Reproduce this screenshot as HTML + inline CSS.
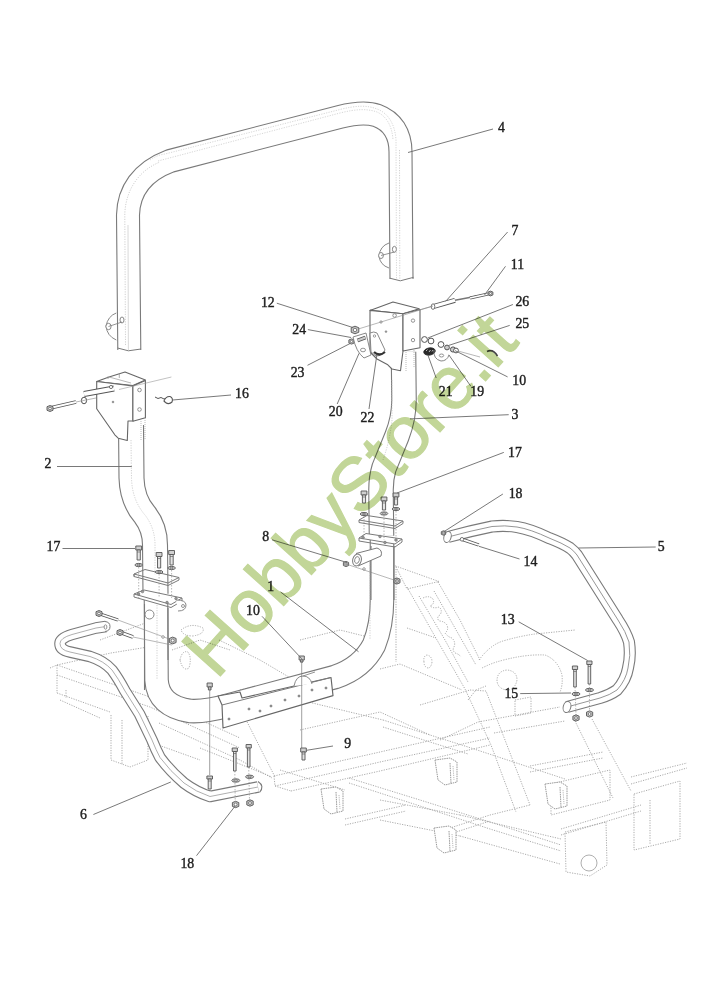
<!DOCTYPE html>
<html><head><meta charset="utf-8"><style>
html,body{margin:0;padding:0;background:#fff;}
svg{display:block;filter:blur(0.3px);}
</style></head><body>
<svg width="706" height="1000" viewBox="0 0 706 1000">
<rect width="706" height="1000" fill="#fff"/>
<polyline points="57,665 150,697 240,738" fill="none" stroke="#a6a6a6" stroke-width="0.95" stroke-dasharray="1.2 1.3"/>
<polyline points="57,675 150,707 240,748" fill="none" stroke="#a6a6a6" stroke-width="0.95" stroke-dasharray="1.2 1.3"/>
<polyline points="57,693 110,712" fill="none" stroke="#a6a6a6" stroke-width="0.95" stroke-dasharray="1.2 1.3"/>
<polyline points="57,665 57,693" fill="none" stroke="#a6a6a6" stroke-width="0.95" stroke-dasharray="1.2 1.3"/>
<polyline points="50,668 57,665" fill="none" stroke="#a6a6a6" stroke-width="0.95" stroke-dasharray="1.2 1.3"/>
<polyline points="57,665 111,653 148,647" fill="none" stroke="#a6a6a6" stroke-width="0.95" stroke-dasharray="1.2 1.3"/>
<polyline points="66,690 66,698" fill="none" stroke="#a6a6a6" stroke-width="0.95" stroke-dasharray="1.2 1.3"/>
<polyline points="111,715 111,760 130,767 148,760 148,716" fill="none" stroke="#a6a6a6" stroke-width="0.95" stroke-dasharray="1.2 1.3"/>
<polyline points="122,720 122,764" fill="none" stroke="#a6a6a6" stroke-width="0.95" stroke-dasharray="1.2 1.3"/>
<polyline points="159,723 240,760 272,778" fill="none" stroke="#a6a6a6" stroke-width="0.95" stroke-dasharray="1.2 1.3"/>
<polyline points="150,742 200,760" fill="none" stroke="#a6a6a6" stroke-width="0.95" stroke-dasharray="1.2 1.3"/>
<polyline points="100,640 148,622" fill="none" stroke="#a6a6a6" stroke-width="0.95" stroke-dasharray="1.2 1.3"/>
<polyline points="60,700 100,718" fill="none" stroke="#a6a6a6" stroke-width="0.95" stroke-dasharray="1.2 1.3"/>
<polyline points="172,650 200,640 230,650" fill="none" stroke="#a6a6a6" stroke-width="0.95" stroke-dasharray="1.2 1.3"/>
<path d="M181,630 q10,-8 22,-2 q2,6 -10,8 q-10,0 -12,-6" fill="none" stroke="#a6a6a6" stroke-width="0.95" stroke-dasharray="1.2 1.3"/>
<path d="M180,660 q2,-10 8,-8 q4,6 1,16 q-6,4 -9,-8" fill="none" stroke="#a6a6a6" stroke-width="0.95" stroke-dasharray="1.2 1.3"/>
<polyline points="219,640 260,660 299,683" fill="none" stroke="#a6a6a6" stroke-width="0.95" stroke-dasharray="1.2 1.3"/>
<polyline points="238,704 275,777" fill="none" stroke="#a6a6a6" stroke-width="0.95" stroke-dasharray="1.2 1.3"/>
<polyline points="200,748 272,777" fill="none" stroke="#a6a6a6" stroke-width="0.95" stroke-dasharray="1.2 1.3"/>
<polyline points="160,700 200,722" fill="none" stroke="#a6a6a6" stroke-width="0.95" stroke-dasharray="1.2 1.3"/>
<polyline points="274,776 380,752 490,727" fill="none" stroke="#a6a6a6" stroke-width="0.95" stroke-dasharray="1.2 1.3"/>
<polyline points="275,786 380,762 490,738" fill="none" stroke="#a6a6a6" stroke-width="0.95" stroke-dasharray="1.2 1.3"/>
<polyline points="291,791 380,771 490,745" fill="none" stroke="#a6a6a6" stroke-width="0.95" stroke-dasharray="1.2 1.3"/>
<polyline points="274,776 275,786 291,791" fill="none" stroke="#a6a6a6" stroke-width="0.95" stroke-dasharray="1.2 1.3"/>
<polyline points="349,778 420,800 490,822 561,845" fill="none" stroke="#a6a6a6" stroke-width="0.95" stroke-dasharray="1.2 1.3"/>
<polyline points="349,783 420,806 490,829 561,851" fill="none" stroke="#a6a6a6" stroke-width="0.95" stroke-dasharray="1.2 1.3"/>
<polyline points="383,720 430,735 468,747 565,779" fill="none" stroke="#a6a6a6" stroke-width="0.95" stroke-dasharray="1.2 1.3"/>
<polyline points="383,727 430,742 468,754" fill="none" stroke="#a6a6a6" stroke-width="0.95" stroke-dasharray="1.2 1.3"/>
<polyline points="300,700 383,720" fill="none" stroke="#a6a6a6" stroke-width="0.95" stroke-dasharray="1.2 1.3"/>
<polyline points="460,815 561,839" fill="none" stroke="#a6a6a6" stroke-width="0.95" stroke-dasharray="1.2 1.3"/>
<polyline points="460,836 560,864" fill="none" stroke="#a6a6a6" stroke-width="0.95" stroke-dasharray="1.2 1.3"/>
<polyline points="380,800 460,815" fill="none" stroke="#a6a6a6" stroke-width="0.95" stroke-dasharray="1.2 1.3"/>
<polyline points="380,820 460,836" fill="none" stroke="#a6a6a6" stroke-width="0.95" stroke-dasharray="1.2 1.3"/>
<polyline points="280,770 345,790" fill="none" stroke="#a6a6a6" stroke-width="0.95" stroke-dasharray="1.2 1.3"/>
<polyline points="345,819 406,805" fill="none" stroke="#a6a6a6" stroke-width="0.95" stroke-dasharray="1.2 1.3"/>
<polyline points="345,825 406,811" fill="none" stroke="#a6a6a6" stroke-width="0.95" stroke-dasharray="1.2 1.3"/>
<polyline points="447,829 490,815 530,805" fill="none" stroke="#a6a6a6" stroke-width="0.95" stroke-dasharray="1.2 1.3"/>
<polyline points="447,835 490,821" fill="none" stroke="#a6a6a6" stroke-width="0.95" stroke-dasharray="1.2 1.3"/>
<polyline points="530,766 603,752" fill="none" stroke="#a6a6a6" stroke-width="0.95" stroke-dasharray="1.2 1.3"/>
<polyline points="530,772 603,758" fill="none" stroke="#a6a6a6" stroke-width="0.95" stroke-dasharray="1.2 1.3"/>
<polyline points="494,733 565,721" fill="none" stroke="#a6a6a6" stroke-width="0.95" stroke-dasharray="1.2 1.3"/>
<polyline points="631,777 687,763" fill="none" stroke="#a6a6a6" stroke-width="0.95" stroke-dasharray="1.2 1.3"/>
<polyline points="631,784 687,768" fill="none" stroke="#a6a6a6" stroke-width="0.95" stroke-dasharray="1.2 1.3"/>
<polyline points="561,829 641,805" fill="none" stroke="#a6a6a6" stroke-width="0.95" stroke-dasharray="1.2 1.3"/>
<polyline points="561,835 641,811" fill="none" stroke="#a6a6a6" stroke-width="0.95" stroke-dasharray="1.2 1.3"/>
<polyline points="634,794 680,781 680,839 634,850 634,794" fill="none" stroke="#a6a6a6" stroke-width="0.95" stroke-dasharray="1.2 1.3"/>
<polyline points="650,800 650,845" fill="none" stroke="#a6a6a6" stroke-width="0.95" stroke-dasharray="1.2 1.3"/>
<polyline points="551,784 610,770 610,800 551,815 551,784" fill="none" stroke="#a6a6a6" stroke-width="0.95" stroke-dasharray="1.2 1.3"/>
<polyline points="565,832 606,822 607,865 590,876 566,872 565,832" fill="none" stroke="#a6a6a6" stroke-width="0.95" stroke-dasharray="1.2 1.3"/>
<circle cx="589" cy="863" r="8" fill="none" stroke="#a6a6a6" stroke-width="0.9"/>
<polyline points="395.5,566 439,581.5 407,589 395.5,566" fill="none" stroke="#a6a6a6" stroke-width="0.95" stroke-dasharray="1.2 1.3"/>
<polyline points="380,567 395.5,566" fill="none" stroke="#a6a6a6" stroke-width="0.95" stroke-dasharray="1.2 1.3"/>
<polyline points="407,587 437,640 465,689 491,745 516,812" fill="none" stroke="#a6a6a6" stroke-width="0.95" stroke-dasharray="1.2 1.3"/>
<polyline points="419,596 445,640 468,682" fill="none" stroke="#a6a6a6" stroke-width="0.95" stroke-dasharray="1.2 1.3"/>
<polyline points="438,582 460,620 480,660" fill="none" stroke="#a6a6a6" stroke-width="0.95" stroke-dasharray="1.2 1.3"/>
<polyline points="434,591 455,628 476,665" fill="none" stroke="#a6a6a6" stroke-width="0.95" stroke-dasharray="1.2 1.3"/>
<polyline points="470,690 486,691 505,740 530,805" fill="none" stroke="#a6a6a6" stroke-width="0.95" stroke-dasharray="1.2 1.3"/>
<polyline points="396,569 396,662" fill="none" stroke="#a6a6a6" stroke-width="0.95" stroke-dasharray="1.2 1.3"/>
<polyline points="380,669 400,664 462,690" fill="none" stroke="#a6a6a6" stroke-width="0.95" stroke-dasharray="1.2 1.3"/>
<polyline points="407,628 436,638" fill="none" stroke="#a6a6a6" stroke-width="0.95" stroke-dasharray="1.2 1.3"/>
<path d="M424,662 q-1,-6 3,-7 q5,1 5,7 q-1,6 -4,6 q-4,-1 -4,-6" fill="none" stroke="#a6a6a6" stroke-width="0.95" stroke-dasharray="1.2 1.3"/>
<path d="M423,598 q6,-3 10,1 q2,5 -3,7 q4,3 9,1 q4,3 1,8 q-4,2 -1,6 q5,0 8,4 q2,5 -2,8 q3,4 7,5 q4,4 2,9 q-2,3 1,6 q4,1 6,4" fill="none" stroke="#a6a6a6" stroke-width="0.95" stroke-dasharray="1.2 1.3"/>
<path d="M479,660 Q490,645 503,641 Q520,636 535,634 L575,630" fill="none" stroke="#a6a6a6" stroke-width="0.95" stroke-dasharray="1.2 1.3"/>
<path d="M482,668 Q492,663 500,661 Q525,654 545,655 Q558,660 562,675 Q563,685 560,692" fill="none" stroke="#a6a6a6" stroke-width="0.95" stroke-dasharray="1.2 1.3"/>
<path d="M497,681 Q497,671 507,670 Q517,671 517,680 Q515,690 507,690 Q498,689 497,681" fill="none" stroke="#a6a6a6" stroke-width="0.95" stroke-dasharray="1.2 1.3"/>
<polyline points="515,700 531,697 531,713 515,716 515,700" fill="none" stroke="#a6a6a6" stroke-width="0.95" stroke-dasharray="1.2 1.3"/>
<polyline points="440,740 478,722 560,707" fill="none" stroke="#a6a6a6" stroke-width="0.95" stroke-dasharray="1.2 1.3"/>
<polyline points="468,700 476,690 486,686" fill="none" stroke="#a6a6a6" stroke-width="0.95" stroke-dasharray="1.2 1.3"/>
<polyline points="575,721 613,798" fill="none" stroke="#a6a6a6" stroke-width="0.95" stroke-dasharray="1.2 1.3"/>
<polyline points="592,719 631,791" fill="none" stroke="#a6a6a6" stroke-width="0.95" stroke-dasharray="1.2 1.3"/>
<polyline points="321,789 324,809 331,814 343,811 343,791 336,787 321,789" fill="#fff" stroke="#999" stroke-width="1.0" stroke-dasharray="1.5 0.8"/>
<polyline points="336,792 337,812" fill="none" stroke="#999" stroke-width="1.0" stroke-dasharray="1.5 0.8"/>
<polyline points="339,795 340,809" fill="none" stroke="#aaa" stroke-width="0.8" stroke-dasharray="1.2 1"/>
<polyline points="435,760 438,780 445,785 457,782 457,762 450,758 435,760" fill="#fff" stroke="#999" stroke-width="1.0" stroke-dasharray="1.5 0.8"/>
<polyline points="450,763 451,783" fill="none" stroke="#999" stroke-width="1.0" stroke-dasharray="1.5 0.8"/>
<polyline points="453,766 454,780" fill="none" stroke="#aaa" stroke-width="0.8" stroke-dasharray="1.2 1"/>
<polyline points="434,828 437,848 444,853 456,850 456,830 449,826 434,828" fill="#fff" stroke="#999" stroke-width="1.0" stroke-dasharray="1.5 0.8"/>
<polyline points="449,831 450,851" fill="none" stroke="#999" stroke-width="1.0" stroke-dasharray="1.5 0.8"/>
<polyline points="452,834 453,848" fill="none" stroke="#aaa" stroke-width="0.8" stroke-dasharray="1.2 1"/>
<polyline points="545,784 548,804 555,809 567,806 567,786 560,782 545,784" fill="#fff" stroke="#999" stroke-width="1.0" stroke-dasharray="1.5 0.8"/>
<polyline points="560,787 561,807" fill="none" stroke="#999" stroke-width="1.0" stroke-dasharray="1.5 0.8"/>
<polyline points="563,790 564,804" fill="none" stroke="#aaa" stroke-width="0.8" stroke-dasharray="1.2 1"/>
<polyline points="300,640 340,630 380,640" fill="none" stroke="#a6a6a6" stroke-width="0.95" stroke-dasharray="1.2 1.3"/>
<polyline points="240,690 300,676" fill="none" stroke="#a6a6a6" stroke-width="0.95" stroke-dasharray="1.2 1.3"/>
<polyline points="420,705 470,690" fill="none" stroke="#a6a6a6" stroke-width="0.95" stroke-dasharray="1.2 1.3"/>
<polyline points="300,730 380,712 430,735" fill="none" stroke="#a6a6a6" stroke-width="0.95" stroke-dasharray="1.2 1.3"/>
<path d="M106,626.5 L96,628 L72,634.5 Q60,638 60,643.5 Q60,650 70,652 L90,656.5 Q104,661 112,670 Q118,678 125,691 L139.5,714 L152,740 Q156,750 160,757.5 Q170,771 184,783 Q196,792 210,796.5 L258,787" fill="none" stroke="#7a7a7a" stroke-width="11.6" stroke-linejoin="round"/>
<path d="M106,626.5 L96,628 L72,634.5 Q60,638 60,643.5 Q60,650 70,652 L90,656.5 Q104,661 112,670 Q118,678 125,691 L139.5,714 L152,740 Q156,750 160,757.5 Q170,771 184,783 Q196,792 210,796.5 L258,787" fill="none" stroke="#fff" stroke-width="9.4" stroke-linejoin="round"/>
<path d="M106,626.5 L96,628 L72,634.5 Q60,638 60,643.5 Q60,650 70,652 L90,656.5 Q104,661 112,670 Q118,678 125,691 L139.5,714 L152,740 Q156,750 160,757.5 Q170,771 184,783 Q196,792 210,796.5 L258,787" fill="none" stroke="#9a9a9a" stroke-width="0.8"/>
<path d="M258,781.5 Q265,786 259.5,792.5" fill="none" stroke="#7a7a7a" stroke-width="1.1"/>
<path d="M105,621.5 Q110,622 110,626.5 Q110,631 105,631.5" fill="#fff" stroke="#7a7a7a" stroke-width="1"/>
<ellipse cx="105.5" cy="627" rx="1.4" ry="2.2" transform="rotate(0 105.5 627)" fill="#fff" stroke="#7a7a7a" stroke-width="0.8"/>
<path d="M156,600 L156.5,680 Q158,706 190,711 Q205,712 230,705 L335,677 Q362,668 374,645 Q382,625 382,600 L382,540" fill="none" stroke="#7a7a7a" stroke-width="24.6" stroke-linejoin="round"/>
<path d="M156,600 L156.5,680 Q158,706 190,711 Q205,712 230,705 L335,677 Q362,668 374,645 Q382,625 382,600 L382,540" fill="none" stroke="#fff" stroke-width="22.4" stroke-linejoin="round"/>
<path d="M157,605 L157,680" fill="none" stroke="#bbb" stroke-width="0.7" stroke-dasharray="1.2 1.3"/>
<path d="M370,560 L370,640" fill="none" stroke="#bbb" stroke-width="0.7" stroke-dasharray="1.2 1.3"/>
<path d="M131,425 L131.5,478 Q132,500 145,515 Q155,528 155,545 L155.5,594" fill="none" stroke="#7a7a7a" stroke-width="26.1" stroke-linejoin="round"/>
<path d="M131,425 L131.5,478 Q132,500 145,515 Q155,528 155,545 L155.5,594" fill="none" stroke="#fff" stroke-width="23.9" stroke-linejoin="round"/>
<path d="M131,440 L131.5,478 Q132,500 145,515 Q155,528 155,545 L155,575" fill="none" stroke="#bbb" stroke-width="0.7" stroke-dasharray="1.2 1.3"/>
<polygon points="96.7,381.5 109,377 125,372 145.4,380 132.9,385.5" fill="#fff" stroke="#666" stroke-width="1.1" stroke-linejoin="round"/>
<polyline points="109,377 131,383" fill="none" stroke="#999" stroke-width="0.7"/>
<polygon points="96.7,381.5 132.9,386 132.9,421 128,421 127.3,440.5 118.2,438.2 114.8,434.8 96.7,408.7" fill="#fff" stroke="#666" stroke-width="1.1" stroke-linejoin="round"/>
<polygon points="132.9,386 145.4,380.4 145.4,417.8 132.9,421.2" fill="#fff" stroke="#666" stroke-width="1.1" stroke-linejoin="round"/>
<path d="M108,376.3 L108,379 M119.3,373.6 L119.3,378" fill="none" stroke="#999" stroke-width="0.8"/>
<circle cx="139.5" cy="390" r="1.8" fill="#fff" stroke="#7a7a7a" stroke-width="0.8"/>
<circle cx="139.5" cy="409.5" r="1.8" fill="#fff" stroke="#7a7a7a" stroke-width="0.8"/>
<circle cx="113" cy="402" r="0.9" fill="#888" stroke="#888" stroke-width="0.6"/>
<path d="M145,418 L145,440 M141,421 L141,440" fill="none" stroke="#aaa" stroke-width="0.8" stroke-dasharray="1 1"/>
<path d="M403.5,352 L404,400 Q404,418 397,436 L384,468 Q381,478 381,490 L381.5,536" fill="none" stroke="#7a7a7a" stroke-width="25.6" stroke-linejoin="round"/>
<path d="M403.5,352 L404,400 Q404,418 397,436 L384,468 Q381,478 381,490 L381.5,536" fill="none" stroke="#fff" stroke-width="23.4" stroke-linejoin="round"/>
<path d="M392,380 L392,420 Q390,440 383,460" fill="none" stroke="#bbb" stroke-width="0.7" stroke-dasharray="1.2 1.3"/>
<polygon points="370,310.4 393,302 419.2,308.7 403,313.8" fill="#fff" stroke="#666" stroke-width="1.1" stroke-linejoin="round"/>
<polygon points="370,310.4 403,313.8 403,351 400.5,370.7 392,369 387.8,364.8 377,359 370,352" fill="#fff" stroke="#666" stroke-width="1.1" stroke-linejoin="round"/>
<polygon points="403,313.8 420,309.5 420,347.8 403,351" fill="#fff" stroke="#666" stroke-width="1.1" stroke-linejoin="round"/>
<circle cx="394.6" cy="315.5" r="1.8" fill="#fff" stroke="#7a7a7a" stroke-width="0.8"/>
<circle cx="413" cy="320.6" r="1.7" fill="#fff" stroke="#7a7a7a" stroke-width="0.8"/>
<circle cx="413" cy="340.1" r="1.7" fill="#fff" stroke="#7a7a7a" stroke-width="0.8"/>
<circle cx="386" cy="331.6" r="0.9" fill="#888" stroke="#888" stroke-width="0.6"/>
<path d="M379,322 l4,0 m-2,-2 l0,4" fill="none" stroke="#888" stroke-width="0.7"/>
<path d="M406,352 L406,372 M414,350 L414,368" fill="none" stroke="#aaa" stroke-width="0.8" stroke-dasharray="1 1"/>
<path d="M448,537 Q470,531 492,526.5 Q505,525 517,527 Q530,529 550,538.4 Q562,543 570,548 Q574,551 577,555 L618,620 Q626,632 629,642 Q631,656 628,668 Q626,680 617,690 Q610,695 600,698 L567,707" fill="none" stroke="#7a7a7a" stroke-width="12.1" stroke-linejoin="round"/>
<path d="M448,537 Q470,531 492,526.5 Q505,525 517,527 Q530,529 550,538.4 Q562,543 570,548 Q574,551 577,555 L618,620 Q626,632 629,642 Q631,656 628,668 Q626,680 617,690 Q610,695 600,698 L567,707" fill="none" stroke="#fff" stroke-width="9.9" stroke-linejoin="round"/>
<path d="M448,537 Q470,531 492,526.5 Q505,525 517,527 Q530,529 550,538.4 Q562,543 570,548 Q574,551 577,555 L618,620 Q626,632 629,642 Q631,656 628,668 Q626,680 617,690 Q610,695 600,698 L567,707" fill="none" stroke="#8a8a8a" stroke-width="0.9"/>
<ellipse cx="447.5" cy="537" rx="3.6" ry="5.6" transform="rotate(15 447.5 537)" fill="#fff" stroke="#7a7a7a" stroke-width="1"/>
<ellipse cx="567" cy="707" rx="3.8" ry="5.6" transform="rotate(15 567 707)" fill="#fff" stroke="#7a7a7a" stroke-width="1"/>
<path d="M129.3,350 L128,215 C128.5,192 141,172 170,161 L340,116.8 C356,112.8 367,112 377,115.5 C392,121 400.5,134 400.5,152 L401.5,279" fill="none" stroke="#7a7a7a" stroke-width="24.1" stroke-linejoin="round"/>
<path d="M129.3,350 L128,215 C128.5,192 141,172 170,161 L340,116.8 C356,112.8 367,112 377,115.5 C392,121 400.5,134 400.5,152 L401.5,279" fill="none" stroke="#fff" stroke-width="21.9" stroke-linejoin="round"/>
<path d="M125.5,345 L124.8,215 C125,195 135,172 160,162" fill="none" stroke="#bbb" stroke-width="0.7" stroke-dasharray="1.2 1.3"/>
<path d="M128.4,350 L128,225" fill="none" stroke="#c8c8c8" stroke-width="0.7"/>
<path d="M150,160 Q157,155 165,154 L340,109.5 C356,105.5 367,105 377,109 C388,113 395,124 396,140 L396.5,279" fill="none" stroke="#c4c4c4" stroke-width="0.7" stroke-dasharray="1.2 1.3"/>
<path d="M158,161 L340,113 C356,109 367,108.5 377,112 C386,116 392,125 393,140" fill="none" stroke="#c4c4c4" stroke-width="0.7" stroke-dasharray="1.2 1.3"/>
<path d="M399.5,150 L399.8,279" fill="none" stroke="#bbb" stroke-width="0.7" stroke-dasharray="1.2 1.3"/>
<polyline points="117.6,348 128.4,350.8 141,349" fill="none" stroke="#7a7a7a" stroke-width="1"/>
<polyline points="389.8,278.2 400.3,280.8 413.6,277.3" fill="none" stroke="#7a7a7a" stroke-width="1"/>
<path d="M116.3,313 Q108,316 106,326 Q107,336 116.3,340" fill="none" stroke="#7a7a7a" stroke-width="0.9"/>
<ellipse cx="108.5" cy="326.5" rx="2.6" ry="3.2" transform="rotate(0 108.5 326.5)" fill="#fff" stroke="#7a7a7a" stroke-width="0.9"/>
<ellipse cx="122" cy="320" rx="2" ry="3" transform="rotate(0 122 320)" fill="#fff" stroke="#7a7a7a" stroke-width="0.9"/>
<polyline points="108.5,326.5 122,322" fill="none" stroke="#7a7a7a" stroke-width="0.8"/>
<path d="M389,243 Q380,246 379,256 Q380,265 389,268" fill="none" stroke="#7a7a7a" stroke-width="0.9"/>
<ellipse cx="381" cy="255.5" rx="2.4" ry="3" transform="rotate(0 381 255.5)" fill="#fff" stroke="#7a7a7a" stroke-width="0.9"/>
<ellipse cx="394.4" cy="249.3" rx="2" ry="3" transform="rotate(0 394.4 249.3)" fill="#fff" stroke="#7a7a7a" stroke-width="0.9"/>
<polyline points="381,255.5 394.4,252" fill="none" stroke="#7a7a7a" stroke-width="0.8"/>
<polygon points="134,594 144,590 182,598 171,604.5" fill="#fff" stroke="#7a7a7a" stroke-width="1" stroke-linejoin="round"/>
<polyline points="134,594 134,597 171,607.5 182,601 182,598" fill="none" stroke="#7a7a7a" stroke-width="1"/>
<path d="M176,600 Q186,600 186,605 Q186,611 178,611" fill="#fff" stroke="#7a7a7a" stroke-width="0.9"/>
<circle cx="183" cy="606" r="1.5" fill="#fff" stroke="#7a7a7a" stroke-width="0.8"/>
<circle cx="138.5" cy="594" r="1.3" fill="#999" stroke="#777" stroke-width="0.7"/>
<circle cx="142.5" cy="591.5" r="1.3" fill="#999" stroke="#777" stroke-width="0.7"/>
<circle cx="176" cy="598.5" r="1.3" fill="#999" stroke="#777" stroke-width="0.7"/>
<circle cx="167" cy="602.5" r="1.3" fill="#999" stroke="#777" stroke-width="0.7"/>
<polygon points="134,574 145,569.5 179,577.5 168,583" fill="none" stroke="#7a7a7a" stroke-width="1" stroke-linejoin="round"/>
<polyline points="134,574 134,576.5 168,585.5 179,580 179,577.5" fill="none" stroke="#7a7a7a" stroke-width="1"/>
<polyline points="134,576.5 134,574" fill="none" stroke="#7a7a7a" stroke-width="1"/>
<polyline points="144.5,604 144.5,690" fill="none" stroke="#7a7a7a" stroke-width="1.1"/>
<polyline points="168,608 168,660" fill="none" stroke="#7a7a7a" stroke-width="1.1"/>
<circle cx="149.5" cy="614.5" r="4.5" fill="#fff" stroke="#7a7a7a" stroke-width="0.9"/>
<polygon points="135.79999999999998,546 141.6,546 141.6,550 135.79999999999998,550" fill="#d0d0d0" stroke="#555" stroke-width="0.9" stroke-linejoin="round"/>
<polygon points="137.1,550 140.29999999999998,550 140.29999999999998,560 137.1,560" fill="#e4e4e4" stroke="#555" stroke-width="0.9" stroke-linejoin="round"/>
<polyline points="137.1,552 140.29999999999998,552" fill="none" stroke="#555" stroke-width="0.6"/>
<ellipse cx="138.7" cy="565" rx="3.8" ry="1.6" transform="rotate(0 138.7 565)" fill="#d8d8d8" stroke="#555" stroke-width="0.9"/>
<ellipse cx="138.7" cy="565" rx="1.71" ry="0.7200000000000001" transform="rotate(0 138.7 565)" fill="#fff" stroke="#555" stroke-width="0.7"/>
<polyline points="138.7,567 138.7,598" fill="none" stroke="#888" stroke-width="0.6" stroke-dasharray="1.5 1.5"/>
<polygon points="156.2,552.5 162.0,552.5 162.0,556.5 156.2,556.5" fill="#d0d0d0" stroke="#555" stroke-width="0.9" stroke-linejoin="round"/>
<polygon points="157.5,556.5 160.7,556.5 160.7,568 157.5,568" fill="#e4e4e4" stroke="#555" stroke-width="0.9" stroke-linejoin="round"/>
<polyline points="157.5,558.5 160.7,558.5" fill="none" stroke="#555" stroke-width="0.6"/>
<ellipse cx="159.1" cy="572" rx="3.8" ry="1.6" transform="rotate(0 159.1 572)" fill="#d8d8d8" stroke="#555" stroke-width="0.9"/>
<ellipse cx="159.1" cy="572" rx="1.71" ry="0.7200000000000001" transform="rotate(0 159.1 572)" fill="#fff" stroke="#555" stroke-width="0.7"/>
<polyline points="159.1,574 159.1,598" fill="none" stroke="#888" stroke-width="0.6" stroke-dasharray="1.5 1.5"/>
<polygon points="168.7,550.5 174.5,550.5 174.5,554.5 168.7,554.5" fill="#d0d0d0" stroke="#555" stroke-width="0.9" stroke-linejoin="round"/>
<polygon points="170.0,554.5 173.2,554.5 173.2,565 170.0,565" fill="#e4e4e4" stroke="#555" stroke-width="0.9" stroke-linejoin="round"/>
<polyline points="170.0,556.5 173.2,556.5" fill="none" stroke="#555" stroke-width="0.6"/>
<ellipse cx="171.6" cy="568" rx="3.8" ry="1.6" transform="rotate(0 171.6 568)" fill="#d8d8d8" stroke="#555" stroke-width="0.9"/>
<ellipse cx="171.6" cy="568" rx="1.71" ry="0.7200000000000001" transform="rotate(0 171.6 568)" fill="#fff" stroke="#555" stroke-width="0.7"/>
<polyline points="171.6,570 171.6,598" fill="none" stroke="#888" stroke-width="0.6" stroke-dasharray="1.5 1.5"/>
<polygon points="359,538 366,533.5 402,539 395,544" fill="#fff" stroke="#7a7a7a" stroke-width="1" stroke-linejoin="round"/>
<polyline points="359,538 359,541 395,547 402,542 402,539" fill="none" stroke="#7a7a7a" stroke-width="1"/>
<circle cx="363" cy="537.5" r="1.3" fill="#999" stroke="#777" stroke-width="0.7"/>
<circle cx="380" cy="536.5" r="1.3" fill="#999" stroke="#777" stroke-width="0.7"/>
<circle cx="396" cy="540" r="1.3" fill="#999" stroke="#777" stroke-width="0.7"/>
<circle cx="385" cy="542.5" r="1.3" fill="#999" stroke="#777" stroke-width="0.7"/>
<polygon points="359,520 367,515.5 403,521 395,526" fill="none" stroke="#7a7a7a" stroke-width="1" stroke-linejoin="round"/>
<polyline points="359,520 359,522.5 395,528.5 403,523.5 403,521" fill="none" stroke="#7a7a7a" stroke-width="1"/>
<polygon points="361.09999999999997,491 366.90000000000003,491 366.90000000000003,495 361.09999999999997,495" fill="#d0d0d0" stroke="#555" stroke-width="0.9" stroke-linejoin="round"/>
<polygon points="362.4,495 365.6,495 365.6,503 362.4,503" fill="#e4e4e4" stroke="#555" stroke-width="0.9" stroke-linejoin="round"/>
<polyline points="362.4,497 365.6,497" fill="none" stroke="#555" stroke-width="0.6"/>
<ellipse cx="364" cy="514" rx="3.8" ry="1.6" transform="rotate(0 364 514)" fill="#d8d8d8" stroke="#555" stroke-width="0.9"/>
<ellipse cx="364" cy="514" rx="1.71" ry="0.7200000000000001" transform="rotate(0 364 514)" fill="#fff" stroke="#555" stroke-width="0.7"/>
<polyline points="364,516 364,540" fill="none" stroke="#888" stroke-width="0.6" stroke-dasharray="1.5 1.5"/>
<polygon points="381.09999999999997,497 386.90000000000003,497 386.90000000000003,501 381.09999999999997,501" fill="#d0d0d0" stroke="#555" stroke-width="0.9" stroke-linejoin="round"/>
<polygon points="382.4,501 385.6,501 385.6,510 382.4,510" fill="#e4e4e4" stroke="#555" stroke-width="0.9" stroke-linejoin="round"/>
<polyline points="382.4,503 385.6,503" fill="none" stroke="#555" stroke-width="0.6"/>
<ellipse cx="384" cy="513.5" rx="3.8" ry="1.6" transform="rotate(0 384 513.5)" fill="#d8d8d8" stroke="#555" stroke-width="0.9"/>
<ellipse cx="384" cy="513.5" rx="1.71" ry="0.7200000000000001" transform="rotate(0 384 513.5)" fill="#fff" stroke="#555" stroke-width="0.7"/>
<polyline points="384,515.5 384,540" fill="none" stroke="#888" stroke-width="0.6" stroke-dasharray="1.5 1.5"/>
<polygon points="393.09999999999997,493 398.90000000000003,493 398.90000000000003,497 393.09999999999997,497" fill="#d0d0d0" stroke="#555" stroke-width="0.9" stroke-linejoin="round"/>
<polygon points="394.4,497 397.6,497 397.6,505 394.4,505" fill="#e4e4e4" stroke="#555" stroke-width="0.9" stroke-linejoin="round"/>
<polyline points="394.4,499 397.6,499" fill="none" stroke="#555" stroke-width="0.6"/>
<ellipse cx="396" cy="509" rx="3.8" ry="1.6" transform="rotate(0 396 509)" fill="#d8d8d8" stroke="#555" stroke-width="0.9"/>
<ellipse cx="396" cy="509" rx="1.71" ry="0.7200000000000001" transform="rotate(0 396 509)" fill="#fff" stroke="#555" stroke-width="0.7"/>
<polyline points="396,511 396,540" fill="none" stroke="#888" stroke-width="0.6" stroke-dasharray="1.5 1.5"/>
<polyline points="371,546 371,600" fill="none" stroke="#7a7a7a" stroke-width="1.1"/>
<polyline points="394,546 394,600" fill="none" stroke="#7a7a7a" stroke-width="1.1"/>
<path d="M356,553.5 L377,548 Q383,550 381,556 L358,566" fill="#fff" stroke="#7a7a7a" stroke-width="1"/>
<ellipse cx="357" cy="560" rx="4.3" ry="6" transform="rotate(15 357 560)" fill="#fff" stroke="#7a7a7a" stroke-width="1"/>
<ellipse cx="357" cy="560" rx="2.3" ry="3.5" transform="rotate(15 357 560)" fill="#fff" stroke="#7a7a7a" stroke-width="0.8"/>
<polygon points="343.4,562.44 346,561.4 348.6,562.44 348.6,565.56 346,566.6 343.4,565.56" fill="#c4c4c4" stroke="#555" stroke-width="0.9" stroke-linejoin="round"/>
<circle cx="346" cy="564" r="1.1700000000000002" fill="#fff" stroke="#555" stroke-width="0.7"/>
<circle cx="364" cy="569" r="1.3" fill="#fff" stroke="#777" stroke-width="0.7"/>
<polygon points="394,579.2 397,578 400,579.2 400,582.8 397,584 394,582.8" fill="#c4c4c4" stroke="#555" stroke-width="0.9" stroke-linejoin="round"/>
<circle cx="397" cy="581" r="1.35" fill="#fff" stroke="#555" stroke-width="0.7"/>
<polyline points="346,564 397,581" fill="none" stroke="#888" stroke-width="0.6"/>
<polygon points="218,696 240,692 242,698 331,677.5 333,695.6 223,728 222,705" fill="#fff" stroke="#666" stroke-width="1.15" stroke-linejoin="round"/>
<polyline points="222,705 331,677.5" fill="none" stroke="#7a7a7a" stroke-width="1"/>
<circle cx="229" cy="719" r="1.1" fill="#888" stroke="#777" stroke-width="0.6"/>
<circle cx="249" cy="709" r="1.1" fill="#888" stroke="#777" stroke-width="0.6"/>
<circle cx="260" cy="711" r="1.1" fill="#888" stroke="#777" stroke-width="0.6"/>
<circle cx="271" cy="706" r="1.1" fill="#888" stroke="#777" stroke-width="0.6"/>
<circle cx="285" cy="700" r="1.1" fill="#888" stroke="#777" stroke-width="0.6"/>
<circle cx="299" cy="696" r="1.1" fill="#888" stroke="#777" stroke-width="0.6"/>
<circle cx="312" cy="690" r="1.1" fill="#888" stroke="#777" stroke-width="0.6"/>
<circle cx="326" cy="688" r="1.1" fill="#888" stroke="#777" stroke-width="0.6"/>
<path d="M294,686 Q296,676 303,676 Q310,676 312,684" fill="#fff" stroke="#7a7a7a" stroke-width="0.9"/>
<polyline points="303,676 315,672" fill="none" stroke="#7a7a7a" stroke-width="0.8"/>
<polygon points="207.09999999999997,683 212.3,683 212.3,687 207.09999999999997,687" fill="#d0d0d0" stroke="#555" stroke-width="0.9" stroke-linejoin="round"/>
<polygon points="208.39999999999998,687 211.0,687 211.0,690 208.39999999999998,690" fill="#e4e4e4" stroke="#555" stroke-width="0.9" stroke-linejoin="round"/>
<polyline points="208.39999999999998,689 211.0,689" fill="none" stroke="#555" stroke-width="0.6"/>
<polyline points="209.7,690 209.7,775" fill="none" stroke="#777" stroke-width="0.7"/>
<polygon points="206.89999999999998,776 212.5,776 212.5,779 206.89999999999998,779" fill="#d0d0d0" stroke="#555" stroke-width="0.9" stroke-linejoin="round"/>
<polygon points="208.2,779 211.2,779 211.2,789 208.2,789" fill="#e4e4e4" stroke="#555" stroke-width="0.9" stroke-linejoin="round"/>
<polyline points="208.2,781 211.2,781" fill="none" stroke="#555" stroke-width="0.6"/>
<polygon points="299.09999999999997,656 304.3,656 304.3,660 299.09999999999997,660" fill="#d0d0d0" stroke="#555" stroke-width="0.9" stroke-linejoin="round"/>
<polygon points="300.4,660 303.0,660 303.0,662 300.4,662" fill="#e4e4e4" stroke="#555" stroke-width="0.9" stroke-linejoin="round"/>
<polyline points="300.4,662 303.0,662" fill="none" stroke="#555" stroke-width="0.6"/>
<polyline points="301.7,662 301.7,748" fill="none" stroke="#777" stroke-width="0.7"/>
<polygon points="300.7,748 306.3,748 306.3,752 300.7,752" fill="#d0d0d0" stroke="#555" stroke-width="0.9" stroke-linejoin="round"/>
<polygon points="302.0,752 305.0,752 305.0,760 302.0,760" fill="#e4e4e4" stroke="#555" stroke-width="0.9" stroke-linejoin="round"/>
<polyline points="302.0,754 305.0,754" fill="none" stroke="#555" stroke-width="0.6"/>
<polygon points="232.2,748 237.40000000000003,748 237.40000000000003,751.5 232.2,751.5" fill="#d0d0d0" stroke="#555" stroke-width="0.9" stroke-linejoin="round"/>
<polygon points="233.5,751.5 236.10000000000002,751.5 236.10000000000002,771 233.5,771" fill="#e4e4e4" stroke="#555" stroke-width="0.9" stroke-linejoin="round"/>
<polyline points="233.5,753.5 236.10000000000002,753.5" fill="none" stroke="#555" stroke-width="0.6"/>
<polygon points="246.09999999999997,744.5 251.3,744.5 251.3,748.0 246.09999999999997,748.0" fill="#d0d0d0" stroke="#555" stroke-width="0.9" stroke-linejoin="round"/>
<polygon points="247.39999999999998,748.0 250.0,748.0 250.0,767 247.39999999999998,767" fill="#e4e4e4" stroke="#555" stroke-width="0.9" stroke-linejoin="round"/>
<polyline points="247.39999999999998,750.0 250.0,750.0" fill="none" stroke="#555" stroke-width="0.6"/>
<ellipse cx="235.8" cy="780.5" rx="4" ry="1.7" transform="rotate(0 235.8 780.5)" fill="#d8d8d8" stroke="#555" stroke-width="0.9"/>
<ellipse cx="235.8" cy="780.5" rx="1.8" ry="0.765" transform="rotate(0 235.8 780.5)" fill="#fff" stroke="#555" stroke-width="0.7"/>
<ellipse cx="249.6" cy="776.8" rx="4" ry="1.7" transform="rotate(0 249.6 776.8)" fill="#d8d8d8" stroke="#555" stroke-width="0.9"/>
<ellipse cx="249.6" cy="776.8" rx="1.8" ry="0.765" transform="rotate(0 249.6 776.8)" fill="#fff" stroke="#555" stroke-width="0.7"/>
<polyline points="234.8,771 235.2,800" fill="none" stroke="#888" stroke-width="0.6" stroke-dasharray="1.5 1.5"/>
<polyline points="248.7,767 249.5,800" fill="none" stroke="#888" stroke-width="0.6" stroke-dasharray="1.5 1.5"/>
<polygon points="232.4,802.58 235.6,801.3 238.79999999999998,802.58 238.79999999999998,806.42 235.6,807.7 232.4,806.42" fill="#c4c4c4" stroke="#555" stroke-width="0.9" stroke-linejoin="round"/>
<circle cx="235.6" cy="804.5" r="1.4400000000000002" fill="#fff" stroke="#555" stroke-width="0.7"/>
<polygon points="246.8,801.08 250,799.8 253.2,801.08 253.2,804.92 250,806.2 246.8,804.92" fill="#c4c4c4" stroke="#555" stroke-width="0.9" stroke-linejoin="round"/>
<circle cx="250" cy="803" r="1.4400000000000002" fill="#fff" stroke="#555" stroke-width="0.7"/>
<path d="M100,614 L118,620" fill="none" stroke="#555" stroke-width="3.2"/>
<path d="M100,614 L118,620" fill="none" stroke="#fff" stroke-width="1.6"/>
<polygon points="96,611.7 99,610.5 102,611.7 102,615.3 99,616.5 96,615.3" fill="#c4c4c4" stroke="#555" stroke-width="0.9" stroke-linejoin="round"/>
<circle cx="99" cy="613.5" r="1.35" fill="#fff" stroke="#555" stroke-width="0.7"/>
<polyline points="118,620 172,640" fill="none" stroke="#888" stroke-width="0.6"/>
<path d="M122,633 L133,637" fill="none" stroke="#555" stroke-width="3.6"/>
<path d="M122,633 L133,637" fill="none" stroke="#fff" stroke-width="2"/>
<polygon points="117,630.7 120,629.5 123,630.7 123,634.3 120,635.5 117,634.3" fill="#c4c4c4" stroke="#555" stroke-width="0.9" stroke-linejoin="round"/>
<circle cx="120" cy="632.5" r="1.35" fill="#fff" stroke="#555" stroke-width="0.7"/>
<polyline points="133,637 172,645" fill="none" stroke="#888" stroke-width="0.6"/>
<polygon points="169.29999999999998,638.46 172.7,637.1 176.1,638.46 176.1,642.54 172.7,643.9 169.29999999999998,642.54" fill="#c4c4c4" stroke="#555" stroke-width="0.9" stroke-linejoin="round"/>
<circle cx="172.7" cy="640.5" r="1.53" fill="#fff" stroke="#555" stroke-width="0.7"/>
<circle cx="163" cy="637" r="1.3" fill="#fff" stroke="#777" stroke-width="0.7"/>
<path d="M463,539.6 L478.8,545" fill="none" stroke="#555" stroke-width="3.4"/>
<path d="M463,539.6 L478.8,545" fill="none" stroke="#fff" stroke-width="1.8"/>
<circle cx="462" cy="539.3" r="1.8" fill="#fff" stroke="#555" stroke-width="0.8"/>
<polygon points="441.3,531.68 443.5,530.8 445.7,531.68 445.7,534.32 443.5,535.2 441.3,534.32" fill="#c4c4c4" stroke="#555" stroke-width="0.9" stroke-linejoin="round"/>
<circle cx="443.5" cy="533" r="0.9900000000000001" fill="#fff" stroke="#555" stroke-width="0.7"/>
<polygon points="572.4000000000001,666 577.5999999999999,666 577.5999999999999,669.5 572.4000000000001,669.5" fill="#d0d0d0" stroke="#555" stroke-width="0.9" stroke-linejoin="round"/>
<polygon points="573.7,669.5 576.3,669.5 576.3,687 573.7,687" fill="#e4e4e4" stroke="#555" stroke-width="0.9" stroke-linejoin="round"/>
<polyline points="573.7,671.5 576.3,671.5" fill="none" stroke="#555" stroke-width="0.6"/>
<polygon points="586.8000000000001,661 591.9999999999999,661 591.9999999999999,664.5 586.8000000000001,664.5" fill="#d0d0d0" stroke="#555" stroke-width="0.9" stroke-linejoin="round"/>
<polygon points="588.1,664.5 590.6999999999999,664.5 590.6999999999999,684 588.1,684" fill="#e4e4e4" stroke="#555" stroke-width="0.9" stroke-linejoin="round"/>
<polyline points="588.1,666.5 590.6999999999999,666.5" fill="none" stroke="#555" stroke-width="0.6"/>
<ellipse cx="576" cy="694" rx="4" ry="1.7" transform="rotate(0 576 694)" fill="#d8d8d8" stroke="#555" stroke-width="0.9"/>
<ellipse cx="576" cy="694" rx="1.8" ry="0.765" transform="rotate(0 576 694)" fill="#fff" stroke="#555" stroke-width="0.7"/>
<ellipse cx="589.5" cy="690" rx="4" ry="1.7" transform="rotate(0 589.5 690)" fill="#d8d8d8" stroke="#555" stroke-width="0.9"/>
<ellipse cx="589.5" cy="690" rx="1.8" ry="0.765" transform="rotate(0 589.5 690)" fill="#fff" stroke="#555" stroke-width="0.7"/>
<polyline points="575,687 576,715" fill="none" stroke="#888" stroke-width="0.6" stroke-dasharray="1.5 1.5"/>
<polyline points="589.4,684 589.5,711" fill="none" stroke="#888" stroke-width="0.6" stroke-dasharray="1.5 1.5"/>
<polygon points="572.9,716.14 576,714.9 579.1,716.14 579.1,719.86 576,721.1 572.9,719.86" fill="#c4c4c4" stroke="#555" stroke-width="0.9" stroke-linejoin="round"/>
<circle cx="576" cy="718" r="1.395" fill="#fff" stroke="#555" stroke-width="0.7"/>
<polygon points="586.5,712.14 589.6,710.9 592.7,712.14 592.7,715.86 589.6,717.1 586.5,715.86" fill="#c4c4c4" stroke="#555" stroke-width="0.9" stroke-linejoin="round"/>
<circle cx="589.6" cy="714" r="1.395" fill="#fff" stroke="#555" stroke-width="0.7"/>
<polyline points="355,330 433,306" fill="none" stroke="#888" stroke-width="0.6"/>
<path d="M433,306.6 L455,300.3" fill="none" stroke="#555" stroke-width="5"/>
<path d="M433,306.6 L455,300.3" fill="none" stroke="#fff" stroke-width="3.2"/>
<ellipse cx="433" cy="306.6" rx="1.8" ry="2.8" transform="rotate(0 433 306.6)" fill="#fff" stroke="#555" stroke-width="0.8"/>
<polyline points="455,300.3 488,294" fill="none" stroke="#777" stroke-width="1.4"/>
<path d="M470,298 L488,294" fill="none" stroke="#555" stroke-width="3.2"/>
<path d="M470,298 L488,294" fill="none" stroke="#fff" stroke-width="1.6"/>
<polygon points="488.1,292.06 490.5,291.1 492.9,292.06 492.9,294.94 490.5,295.9 488.1,294.94" fill="#c4c4c4" stroke="#555" stroke-width="0.9" stroke-linejoin="round"/>
<circle cx="490.5" cy="293.5" r="1.08" fill="#fff" stroke="#555" stroke-width="0.7"/>
<polyline points="419,310 433,306" fill="none" stroke="#888" stroke-width="0.7"/>
<polygon points="351.2,327.72 355,326.2 358.8,327.72 358.8,332.28 355,333.8 351.2,332.28" fill="#c4c4c4" stroke="#555" stroke-width="0.9" stroke-linejoin="round"/>
<circle cx="355" cy="330" r="1.71" fill="#fff" stroke="#555" stroke-width="0.7"/>
<polygon points="348.9,339.94 351.5,338.9 354.1,339.94 354.1,343.06 351.5,344.1 348.9,343.06" fill="#c4c4c4" stroke="#555" stroke-width="0.9" stroke-linejoin="round"/>
<circle cx="351.5" cy="341.5" r="1.1700000000000002" fill="#fff" stroke="#555" stroke-width="0.7"/>
<path d="M353,337 L366,333 L371,355 L364,358 Q356,352 353,337 Z" fill="#fff" stroke="#7a7a7a" stroke-width="0.9"/>
<ellipse cx="363" cy="350" rx="2.5" ry="1.8" transform="rotate(0 363 350)" fill="#fff" stroke="#7a7a7a" stroke-width="0.8"/>
<path d="M357.5,340.5 L365.5,337.5" fill="none" stroke="#555" stroke-width="4"/>
<path d="M357.5,340.5 L365.5,337.5" fill="none" stroke="#ccc" stroke-width="2.2"/>
<path d="M370,333 Q374,331 377,333 L385,350 Q382,356 376,356 L371,352 Z" fill="#fff" stroke="#7a7a7a" stroke-width="0.9"/>
<path d="M374,352 Q379,357 385,352" fill="none" stroke="#333" stroke-width="2.2"/>
<circle cx="374.5" cy="336" r="1.2" fill="#fff" stroke="#7a7a7a" stroke-width="0.7"/>
<circle cx="424.5" cy="339.5" r="2.9" fill="#fff" stroke="#555" stroke-width="1"/>
<circle cx="431" cy="341" r="2.9" fill="#fff" stroke="#555" stroke-width="1"/>
<ellipse cx="429.5" cy="351.5" rx="5.8" ry="3.6" transform="rotate(-10 429.5 351.5)" fill="#2a2a2a" stroke="#222" stroke-width="0.8"/>
<path d="M426,351 l1.5,-1.5 M429,352 l1.5,-2 M432,351.5 l1,-1.5" fill="none" stroke="#fff" stroke-width="0.7"/>
<path d="M434,350 Q433,359 441,361 Q447,361 449,355" fill="none" stroke="#7a7a7a" stroke-width="0.9"/>
<circle cx="441" cy="344.5" r="2.9" fill="#fff" stroke="#555" stroke-width="1"/>
<circle cx="447" cy="347.5" r="2.4" fill="#ccc" stroke="#555" stroke-width="1"/>
<circle cx="453" cy="349.5" r="2.6" fill="#ccc" stroke="#555" stroke-width="1"/>
<circle cx="456" cy="350.5" r="2.4" fill="#fff" stroke="#555" stroke-width="1"/>
<ellipse cx="441.5" cy="355.5" rx="2.2" ry="1.5" transform="rotate(0 441.5 355.5)" fill="#fff" stroke="#7a7a7a" stroke-width="0.8"/>
<polyline points="458,351 480,357" fill="none" stroke="#888" stroke-width="0.6"/>
<path d="M487,351.5 Q493,348.5 497.5,356" fill="none" stroke="#444" stroke-width="1.6"/>
<path d="M155,397 l3,1.5 l3,-1 l3,1.5 l3,-1" fill="none" stroke="#555" stroke-width="1"/>
<path d="M164,401 Q166,396 170,396.5 Q173.5,398 172,402 Q169,405 165.5,402.5 Z" fill="#fff" stroke="#555" stroke-width="1.1"/>
<path d="M50,408 L76,402" fill="none" stroke="#555" stroke-width="3.4"/>
<path d="M50,408 L76,402" fill="none" stroke="#fff" stroke-width="1.8"/>
<polygon points="47,406.7 50,405.5 53,406.7 53,410.3 50,411.5 47,410.3" fill="#c4c4c4" stroke="#555" stroke-width="0.9" stroke-linejoin="round"/>
<circle cx="50" cy="408.5" r="1.35" fill="#fff" stroke="#555" stroke-width="0.7"/>
<ellipse cx="84" cy="400.5" rx="2.6" ry="3.3" transform="rotate(0 84 400.5)" fill="#fff" stroke="#555" stroke-width="1"/>
<path d="M84,394 L114,388.5" fill="none" stroke="#555" stroke-width="6"/>
<path d="M84,394 L114,388.5" fill="none" stroke="#fff" stroke-width="4.2"/>
<circle cx="111" cy="387" r="1.6" fill="#fff" stroke="#555" stroke-width="0.8"/>
<polyline points="76,402 96,398" fill="none" stroke="#888" stroke-width="0.6"/>
<polyline points="119,389.5 171.4,377" fill="none" stroke="#999" stroke-width="0.6"/>
<polyline points="493,129 408,152.5" fill="none" stroke="#6a6a6a" stroke-width="0.9"/>
<polyline points="507.6,232 445.7,301.3" fill="none" stroke="#6a6a6a" stroke-width="0.9"/>
<polyline points="505.5,266.3 484.5,295" fill="none" stroke="#6a6a6a" stroke-width="0.9"/>
<polyline points="512.9,304.5 427.8,338" fill="none" stroke="#6a6a6a" stroke-width="0.9"/>
<polyline points="509.7,325.4 448.8,345.4" fill="none" stroke="#6a6a6a" stroke-width="0.9"/>
<polyline points="507.6,376.9 455,350.6" fill="none" stroke="#6a6a6a" stroke-width="0.9"/>
<polyline points="470.9,386.3 448.8,354.8" fill="none" stroke="#6a6a6a" stroke-width="0.9"/>
<polyline points="436.2,378 427.8,354.8" fill="none" stroke="#6a6a6a" stroke-width="0.9"/>
<polyline points="508.7,414.7 410,418.9" fill="none" stroke="#6a6a6a" stroke-width="0.9"/>
<polyline points="276.8,303.2 353.1,327.6" fill="none" stroke="#6a6a6a" stroke-width="0.9"/>
<polyline points="307.9,329.6 351.1,337.5" fill="none" stroke="#6a6a6a" stroke-width="0.9"/>
<polyline points="307.5,365.3 350.1,343.5" fill="none" stroke="#6a6a6a" stroke-width="0.9"/>
<polyline points="337.2,404 359,353.4" fill="none" stroke="#6a6a6a" stroke-width="0.9"/>
<polyline points="369,409 376.9,354.4" fill="none" stroke="#6a6a6a" stroke-width="0.9"/>
<polyline points="231,395 172.5,400" fill="none" stroke="#6a6a6a" stroke-width="0.9"/>
<polyline points="57,466.5 131.8,466.5" fill="none" stroke="#6a6a6a" stroke-width="0.9"/>
<polyline points="503.8,452.4 397,493" fill="none" stroke="#6a6a6a" stroke-width="0.9"/>
<polyline points="62.5,548.5 135,548.5" fill="none" stroke="#6a6a6a" stroke-width="0.9"/>
<polyline points="502.9,494 444,531.6" fill="none" stroke="#6a6a6a" stroke-width="0.9"/>
<polyline points="655.7,547 578.4,548" fill="none" stroke="#6a6a6a" stroke-width="0.9"/>
<polyline points="519.5,559 479,546.3" fill="none" stroke="#6a6a6a" stroke-width="0.9"/>
<polyline points="272,539.8 347,562.5" fill="none" stroke="#6a6a6a" stroke-width="0.9"/>
<polyline points="280.6,592 358.5,651.7" fill="none" stroke="#6a6a6a" stroke-width="0.9"/>
<polyline points="262,616.3 301.8,658.8" fill="none" stroke="#6a6a6a" stroke-width="0.9"/>
<polyline points="333,746 306,750.4" fill="none" stroke="#6a6a6a" stroke-width="0.9"/>
<polyline points="518.7,621.8 587.6,660.5" fill="none" stroke="#6a6a6a" stroke-width="0.9"/>
<polyline points="520.2,693.6 571,693" fill="none" stroke="#6a6a6a" stroke-width="0.9"/>
<polyline points="93.4,814.5 170.8,782" fill="none" stroke="#6a6a6a" stroke-width="0.9"/>
<polyline points="196.5,855.7 235.2,806" fill="none" stroke="#6a6a6a" stroke-width="0.9"/>
<text x="501.5" y="132.1" text-anchor="middle" font-family="Liberation Serif, serif" font-size="13.8" fill="#1e1e1e" stroke="#1e1e1e" stroke-width="0.4">4</text>
<text x="515" y="234.6" text-anchor="middle" font-family="Liberation Serif, serif" font-size="13.8" fill="#1e1e1e" stroke="#1e1e1e" stroke-width="0.4">7</text>
<text x="517.5" y="268.8" text-anchor="middle" font-family="Liberation Serif, serif" font-size="13.8" fill="#1e1e1e" stroke="#1e1e1e" stroke-width="0.4">11</text>
<text x="522.3" y="305.90000000000003" text-anchor="middle" font-family="Liberation Serif, serif" font-size="13.8" fill="#1e1e1e" stroke="#1e1e1e" stroke-width="0.4">26</text>
<text x="522.3" y="328.0" text-anchor="middle" font-family="Liberation Serif, serif" font-size="13.8" fill="#1e1e1e" stroke="#1e1e1e" stroke-width="0.4">25</text>
<text x="519.2" y="384.6" text-anchor="middle" font-family="Liberation Serif, serif" font-size="13.8" fill="#1e1e1e" stroke="#1e1e1e" stroke-width="0.4">10</text>
<text x="477.2" y="395.6" text-anchor="middle" font-family="Liberation Serif, serif" font-size="13.8" fill="#1e1e1e" stroke="#1e1e1e" stroke-width="0.4">19</text>
<text x="445.7" y="395.6" text-anchor="middle" font-family="Liberation Serif, serif" font-size="13.8" fill="#1e1e1e" stroke="#1e1e1e" stroke-width="0.4">21</text>
<text x="515" y="419.3" text-anchor="middle" font-family="Liberation Serif, serif" font-size="13.8" fill="#1e1e1e" stroke="#1e1e1e" stroke-width="0.4">3</text>
<text x="267.8" y="307.40000000000003" text-anchor="middle" font-family="Liberation Serif, serif" font-size="13.8" fill="#1e1e1e" stroke="#1e1e1e" stroke-width="0.4">12</text>
<text x="299.2" y="333.6" text-anchor="middle" font-family="Liberation Serif, serif" font-size="13.8" fill="#1e1e1e" stroke="#1e1e1e" stroke-width="0.4">24</text>
<text x="297.6" y="376.5" text-anchor="middle" font-family="Liberation Serif, serif" font-size="13.8" fill="#1e1e1e" stroke="#1e1e1e" stroke-width="0.4">23</text>
<text x="335.7" y="415.5" text-anchor="middle" font-family="Liberation Serif, serif" font-size="13.8" fill="#1e1e1e" stroke="#1e1e1e" stroke-width="0.4">20</text>
<text x="367.4" y="421.5" text-anchor="middle" font-family="Liberation Serif, serif" font-size="13.8" fill="#1e1e1e" stroke="#1e1e1e" stroke-width="0.4">22</text>
<text x="242" y="397.6" text-anchor="middle" font-family="Liberation Serif, serif" font-size="13.8" fill="#1e1e1e" stroke="#1e1e1e" stroke-width="0.4">16</text>
<text x="48" y="467.6" text-anchor="middle" font-family="Liberation Serif, serif" font-size="13.8" fill="#1e1e1e" stroke="#1e1e1e" stroke-width="0.4">2</text>
<text x="514.9" y="457.0" text-anchor="middle" font-family="Liberation Serif, serif" font-size="13.8" fill="#1e1e1e" stroke="#1e1e1e" stroke-width="0.4">17</text>
<text x="53.5" y="550.6" text-anchor="middle" font-family="Liberation Serif, serif" font-size="13.8" fill="#1e1e1e" stroke="#1e1e1e" stroke-width="0.4">17</text>
<text x="515.6" y="498.1" text-anchor="middle" font-family="Liberation Serif, serif" font-size="13.8" fill="#1e1e1e" stroke="#1e1e1e" stroke-width="0.4">18</text>
<text x="661.3" y="550.9" text-anchor="middle" font-family="Liberation Serif, serif" font-size="13.8" fill="#1e1e1e" stroke="#1e1e1e" stroke-width="0.4">5</text>
<text x="530.5" y="566.4" text-anchor="middle" font-family="Liberation Serif, serif" font-size="13.8" fill="#1e1e1e" stroke="#1e1e1e" stroke-width="0.4">14</text>
<text x="265.8" y="541.0" text-anchor="middle" font-family="Liberation Serif, serif" font-size="13.8" fill="#1e1e1e" stroke="#1e1e1e" stroke-width="0.4">8</text>
<text x="270.6" y="591.2" text-anchor="middle" font-family="Liberation Serif, serif" font-size="13.8" fill="#1e1e1e" stroke="#1e1e1e" stroke-width="0.4">1</text>
<text x="253" y="615.3000000000001" text-anchor="middle" font-family="Liberation Serif, serif" font-size="13.8" fill="#1e1e1e" stroke="#1e1e1e" stroke-width="0.4">10</text>
<text x="347.7" y="748.1" text-anchor="middle" font-family="Liberation Serif, serif" font-size="13.8" fill="#1e1e1e" stroke="#1e1e1e" stroke-width="0.4">9</text>
<text x="507.7" y="623.8000000000001" text-anchor="middle" font-family="Liberation Serif, serif" font-size="13.8" fill="#1e1e1e" stroke="#1e1e1e" stroke-width="0.4">13</text>
<text x="511.3" y="698.2" text-anchor="middle" font-family="Liberation Serif, serif" font-size="13.8" fill="#1e1e1e" stroke="#1e1e1e" stroke-width="0.4">15</text>
<text x="83.5" y="819.1" text-anchor="middle" font-family="Liberation Serif, serif" font-size="13.8" fill="#1e1e1e" stroke="#1e1e1e" stroke-width="0.4">6</text>
<text x="187.3" y="867.6" text-anchor="middle" font-family="Liberation Serif, serif" font-size="13.8" fill="#1e1e1e" stroke="#1e1e1e" stroke-width="0.4">18</text>
<text x="0" y="0" transform="translate(216.3,680.6) rotate(-48.05)" font-family="Liberation Sans, sans-serif" font-size="75" fill="#c2d698" stroke="#c2d698" stroke-width="1.2" style="mix-blend-mode:multiply">HobbyStore.it</text>
</svg>
</body></html>
